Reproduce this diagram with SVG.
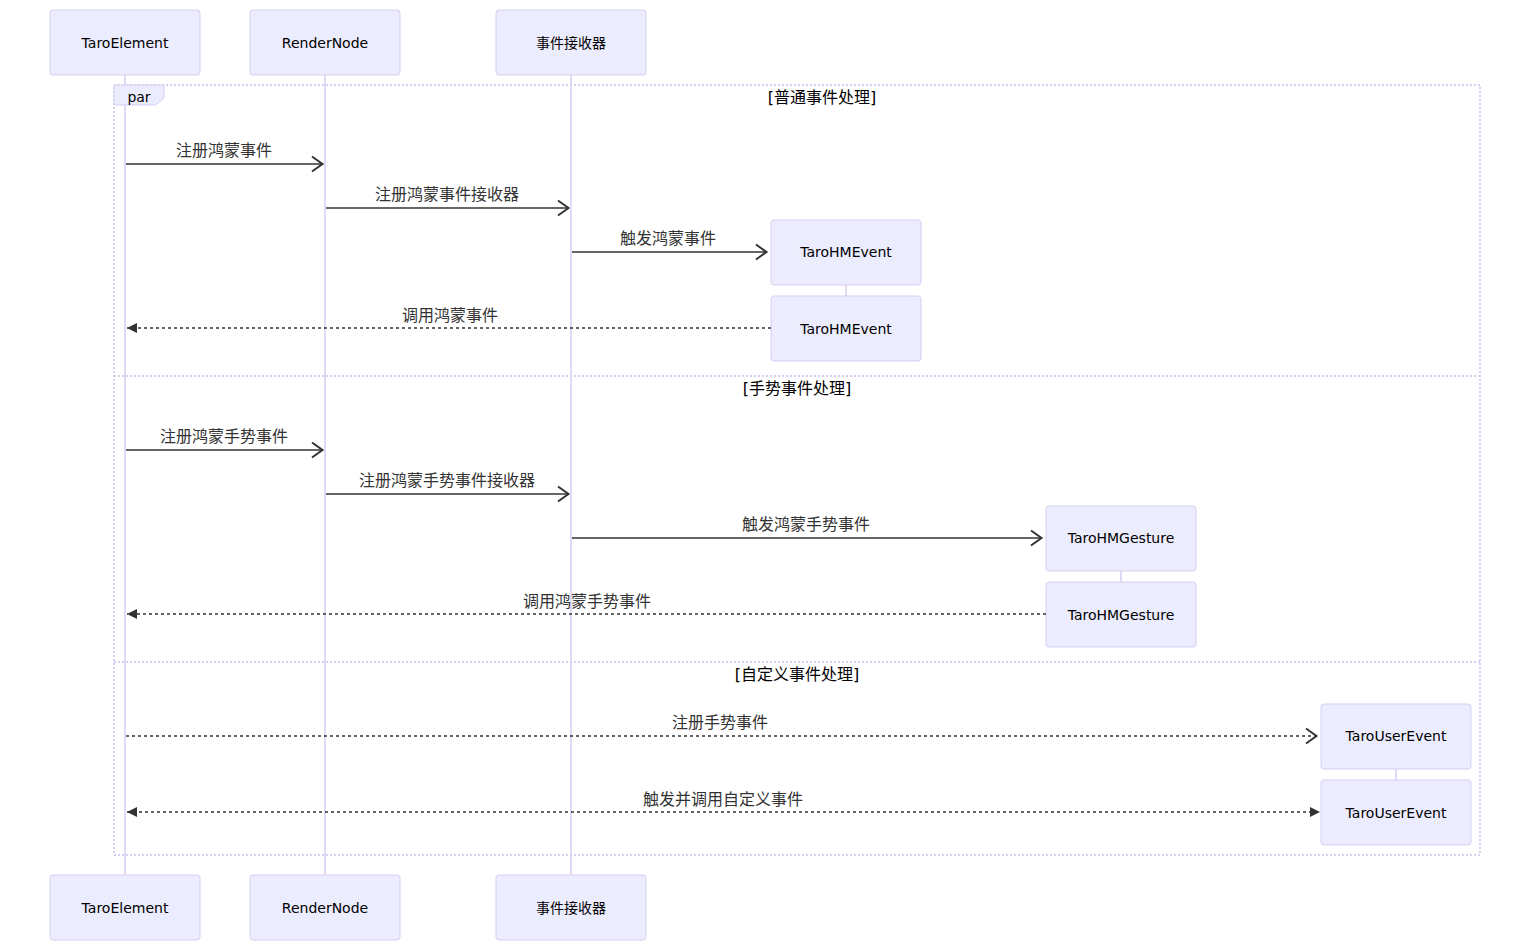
<svg xmlns="http://www.w3.org/2000/svg" width="1530" height="951" viewBox="0 0 1530 951">
<style>
.actor{fill:#ECECFF;stroke:#D7CEF2;stroke-width:1}
.atext{font-family:"DejaVu Sans","Noto Sans CJK SC",sans-serif;font-size:14px;fill:#000;text-anchor:middle;dominant-baseline:central}
.life{stroke:#D7CEF2;stroke-width:1.5;fill:none}
.msg{stroke:#333;stroke-width:1.5;fill:none}
.dash{stroke-dasharray:3,3}
.mtext{font-family:"DejaVu Sans","Noto Sans CJK SC",sans-serif;font-size:16px;fill:#333;text-anchor:middle;dominant-baseline:central}
.loop{stroke:#D7CEF2;stroke-width:2;stroke-dasharray:2,2;fill:none}
.ltext{font-family:"DejaVu Sans","Noto Sans CJK SC",sans-serif;font-size:16px;fill:#000;text-anchor:middle;dominant-baseline:central}
</style>
<defs>
<marker id="open" markerWidth="16" markerHeight="20" refX="13" refY="10" orient="auto" markerUnits="userSpaceOnUse">
<path d="M2,2.5 L12.5,10 L2,17.5" fill="none" stroke="#333" stroke-width="2"/>
</marker>
<marker id="fill" markerWidth="14" markerHeight="14" refX="11" refY="7" orient="auto-start-reverse" markerUnits="userSpaceOnUse">
<path d="M1,2 L11,7 L1,12 Z" fill="#333" stroke="none"/>
</marker>
</defs>
<rect width="1530" height="951" fill="#fff"/>
<g id="lifelines">
<line class="life" x1="125" y1="75" x2="125" y2="875"/>
<line class="life" x1="325" y1="75" x2="325" y2="875"/>
<line class="life" x1="571" y1="75" x2="571" y2="875"/>
<line class="life" x1="846" y1="285" x2="846" y2="296"/>
<line class="life" x1="1121" y1="571" x2="1121" y2="582"/>
<line class="life" x1="1396" y1="769" x2="1396" y2="780"/>
</g>
<g id="par-frame">
<rect class="loop" x="114" y="85" width="1366" height="770"/>
<polygon points="114,85 164,85 164,98 155.6,105 114,105" fill="#ECECFF" stroke="#D7CEF2" stroke-width="1"/>
<text class="atext" x="139" y="97">par</text>
<text class="ltext" x="822" y="97">[普通事件处理]</text>
<line class="loop" x1="114" y1="376" x2="1480" y2="376"/>
<text class="ltext" x="797" y="388">[手势事件处理]</text>
<line class="loop" x1="114" y1="662" x2="1480" y2="662"/>
<text class="ltext" x="797" y="674">[自定义事件处理]</text>
</g>
<g id="TaroElement">
<rect class="actor" x="50" y="10" width="150" height="65" rx="3"/>
<text class="atext" x="125" y="43">TaroElement</text>
<rect class="actor" x="50" y="875" width="150" height="65" rx="3"/>
<text class="atext" x="125" y="908">TaroElement</text>
</g>
<g id="RenderNode">
<rect class="actor" x="250" y="10" width="150" height="65" rx="3"/>
<text class="atext" x="325" y="43">RenderNode</text>
<rect class="actor" x="250" y="875" width="150" height="65" rx="3"/>
<text class="atext" x="325" y="908">RenderNode</text>
</g>
<g id="EventReceiver">
<rect class="actor" x="496" y="10" width="150" height="65" rx="3"/>
<text class="atext" x="571" y="43">事件接收器</text>
<rect class="actor" x="496" y="875" width="150" height="65" rx="3"/>
<text class="atext" x="571" y="908">事件接收器</text>
</g>
<g id="TaroHMEvent">
<rect class="actor" x="771" y="220" width="150" height="65" rx="3"/>
<text class="atext" x="846" y="252">TaroHMEvent</text>
<rect class="actor" x="771" y="296" width="150" height="65" rx="3"/>
<text class="atext" x="846" y="329">TaroHMEvent</text>
</g>
<g id="TaroHMGesture">
<rect class="actor" x="1046" y="506" width="150" height="65" rx="3"/>
<text class="atext" x="1121" y="538">TaroHMGesture</text>
<rect class="actor" x="1046" y="582" width="150" height="65" rx="3"/>
<text class="atext" x="1121" y="615">TaroHMGesture</text>
</g>
<g id="TaroUserEvent">
<rect class="actor" x="1321" y="704" width="150" height="65" rx="3"/>
<text class="atext" x="1396" y="736">TaroUserEvent</text>
<rect class="actor" x="1321" y="780" width="150" height="65" rx="3"/>
<text class="atext" x="1396" y="813">TaroUserEvent</text>
</g>
<g id="connectors">
<line class="msg" x1="126" y1="164" x2="323" y2="164" marker-end="url(#open)"/>
<text class="mtext" x="224" y="150">注册鸿蒙事件</text>
<line class="msg" x1="326" y1="208" x2="569" y2="208" marker-end="url(#open)"/>
<text class="mtext" x="447" y="194">注册鸿蒙事件接收器</text>
<line class="msg" x1="572" y1="252" x2="767" y2="252" marker-end="url(#open)"/>
<text class="mtext" x="668" y="238">触发鸿蒙事件</text>
<line class="msg dash" x1="771" y1="328" x2="127" y2="328" marker-end="url(#fill)"/>
<text class="mtext" x="450" y="315">调用鸿蒙事件</text>
<line class="msg" x1="126" y1="450" x2="323" y2="450" marker-end="url(#open)"/>
<text class="mtext" x="224" y="436">注册鸿蒙手势事件</text>
<line class="msg" x1="326" y1="494" x2="569" y2="494" marker-end="url(#open)"/>
<text class="mtext" x="447" y="480">注册鸿蒙手势事件接收器</text>
<line class="msg" x1="572" y1="538" x2="1042" y2="538" marker-end="url(#open)"/>
<text class="mtext" x="806" y="524">触发鸿蒙手势事件</text>
<line class="msg dash" x1="1046" y1="614" x2="127" y2="614" marker-end="url(#fill)"/>
<text class="mtext" x="587" y="601">调用鸿蒙手势事件</text>
<line class="msg dash" x1="126" y1="736" x2="1317" y2="736" marker-end="url(#open)"/>
<text class="mtext" x="720" y="722">注册手势事件</text>
<line class="msg dash" x1="127" y1="812" x2="1320" y2="812" marker-start="url(#fill)" marker-end="url(#fill)"/>
<text class="mtext" x="723" y="799">触发并调用自定义事件</text>
</g>
</svg>
